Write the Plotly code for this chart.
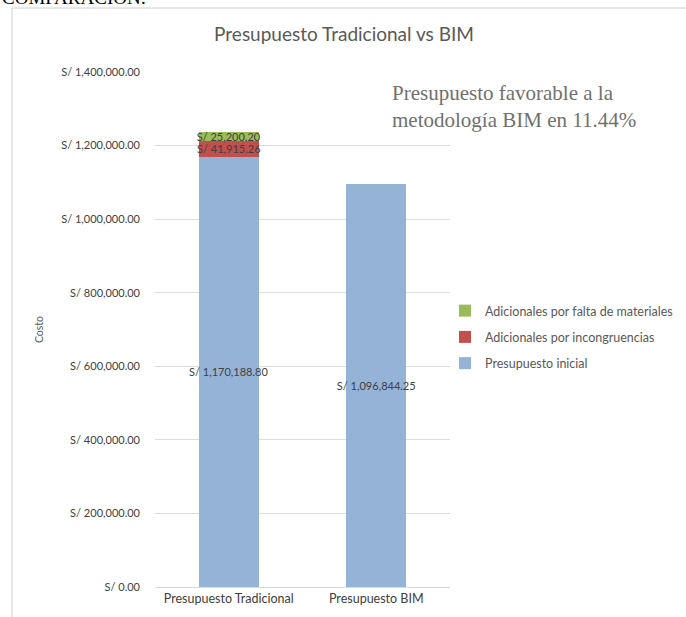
import plotly.graph_objects as go

# Budget categories and stacked components (S/)
categories = ["Presupuesto Tradicional", "Presupuesto BIM"]
presupuesto_inicial = [1170188.80, 1096844.25]
adicionales_incongruencias = [41915.26, None]
adicionales_falta_materiales = [25200.20, None]

y_ticks = [0, 200000, 400000, 600000, 800000, 1000000, 1200000, 1400000]
y_tick_labels = ["S/ {:,.2f}".format(v) for v in y_ticks]

W, H = 686, 617
L, R, T, B = 155, 236, 72, 30
pw, ph = W - L - R, H - T - B


def px_x(p):
    return (p - L) / pw


def px_y(p):
    return (H - B - p) / ph


def money(v):
    return "S/ {:,.2f}".format(v) if v is not None else ""


label_font = dict(family="Lato, Open Sans, sans-serif", size=11, color="#404040")

# (name, values, colour, legend rank) — stacked bottom to top, listed top to bottom
series = [
    ("Presupuesto inicial", presupuesto_inicial, "#95B3D7", 3),
    ("Adicionales por incongruencias", adicionales_incongruencias, "#C0504D", 2),
    ("Adicionales por falta de materiales", adicionales_falta_materiales, "#9BBB59", 1),
]

fig = go.Figure()
for i, (name, values, color, rank) in enumerate(series):
    fig.add_trace(go.Bar(
        x=categories, y=values, name=name, legendgroup=f"g{i}", legendrank=rank,
        marker=dict(color=color, line=dict(width=0)),
        text=[money(v) for v in values], textposition="inside", textangle=0,
        insidetextanchor="middle", constraintext="none", textfont=label_font,
    ))

fig.update_layout(
    width=W, height=H,
    margin=dict(l=L, r=R, t=T, b=B, autoexpand=False),
    paper_bgcolor="white", plot_bgcolor="white",
    barmode="stack", bargap=0.59,
    font=dict(family="Lato, Open Sans, sans-serif", color="#595959"),
    title=dict(text="Presupuesto Tradicional vs BIM", x=344 / W, xref="container",
               xanchor="center", y=1 - 34 / H, yanchor="middle",
               font=dict(size=19, color="#595959")),
    xaxis=dict(range=[-0.5, 1.5], showgrid=False, showline=True,
               linecolor="#D9D9D9", linewidth=1, ticks="",
               tickfont=dict(size=12.5, color="#404040")),
    yaxis=dict(range=[0, 1400000], tickvals=y_ticks, ticktext=y_tick_labels,
               showgrid=True, gridcolor="#DDDDDD", gridwidth=1, zeroline=False,
               showline=False, ticks="", ticklabelstandoff=14,
               tickfont=dict(size=11, color="#404040"),
               title=dict(text="Costo", font=dict(size=10.5, color="#595959"),
                          standoff=15)),
    legend=dict(x=px_x(445), y=px_y(296), xanchor="left", yanchor="top",
                traceorder="grouped", font=dict(size=12.5, color="#595959"),
                itemwidth=30, tracegroupgap=7, bgcolor="rgba(0,0,0,0)"),
    showlegend=True,
)

# Chart-area frame
fig.add_shape(type="rect", xref="paper", yref="paper",
              x0=px_x(12), x1=px_x(700), y0=px_y(640), y1=px_y(8),
              line=dict(color="#D0D0D0", width=1), fillcolor="rgba(0,0,0,0)",
              layer="below")

fig.add_annotation(
    xref="paper", yref="paper", x=px_x(390), y=px_y(79),
    xanchor="left", yanchor="top", align="left", showarrow=False,
    text="Presupuesto favorable a la<br>metodología BIM en 11.44%",
    font=dict(family="Liberation Serif, Times New Roman, serif", size=21, color="#707070"),
)

fig.add_annotation(
    xref="paper", yref="paper", x=px_x(0), y=px_y(10),
    xanchor="left", yanchor="bottom", showarrow=False,
    text="COMPARACIÓN:",
    font=dict(family="Liberation Serif, Times New Roman, serif", size=19, color="#000000"),
)

fig.write_html("out.html")
